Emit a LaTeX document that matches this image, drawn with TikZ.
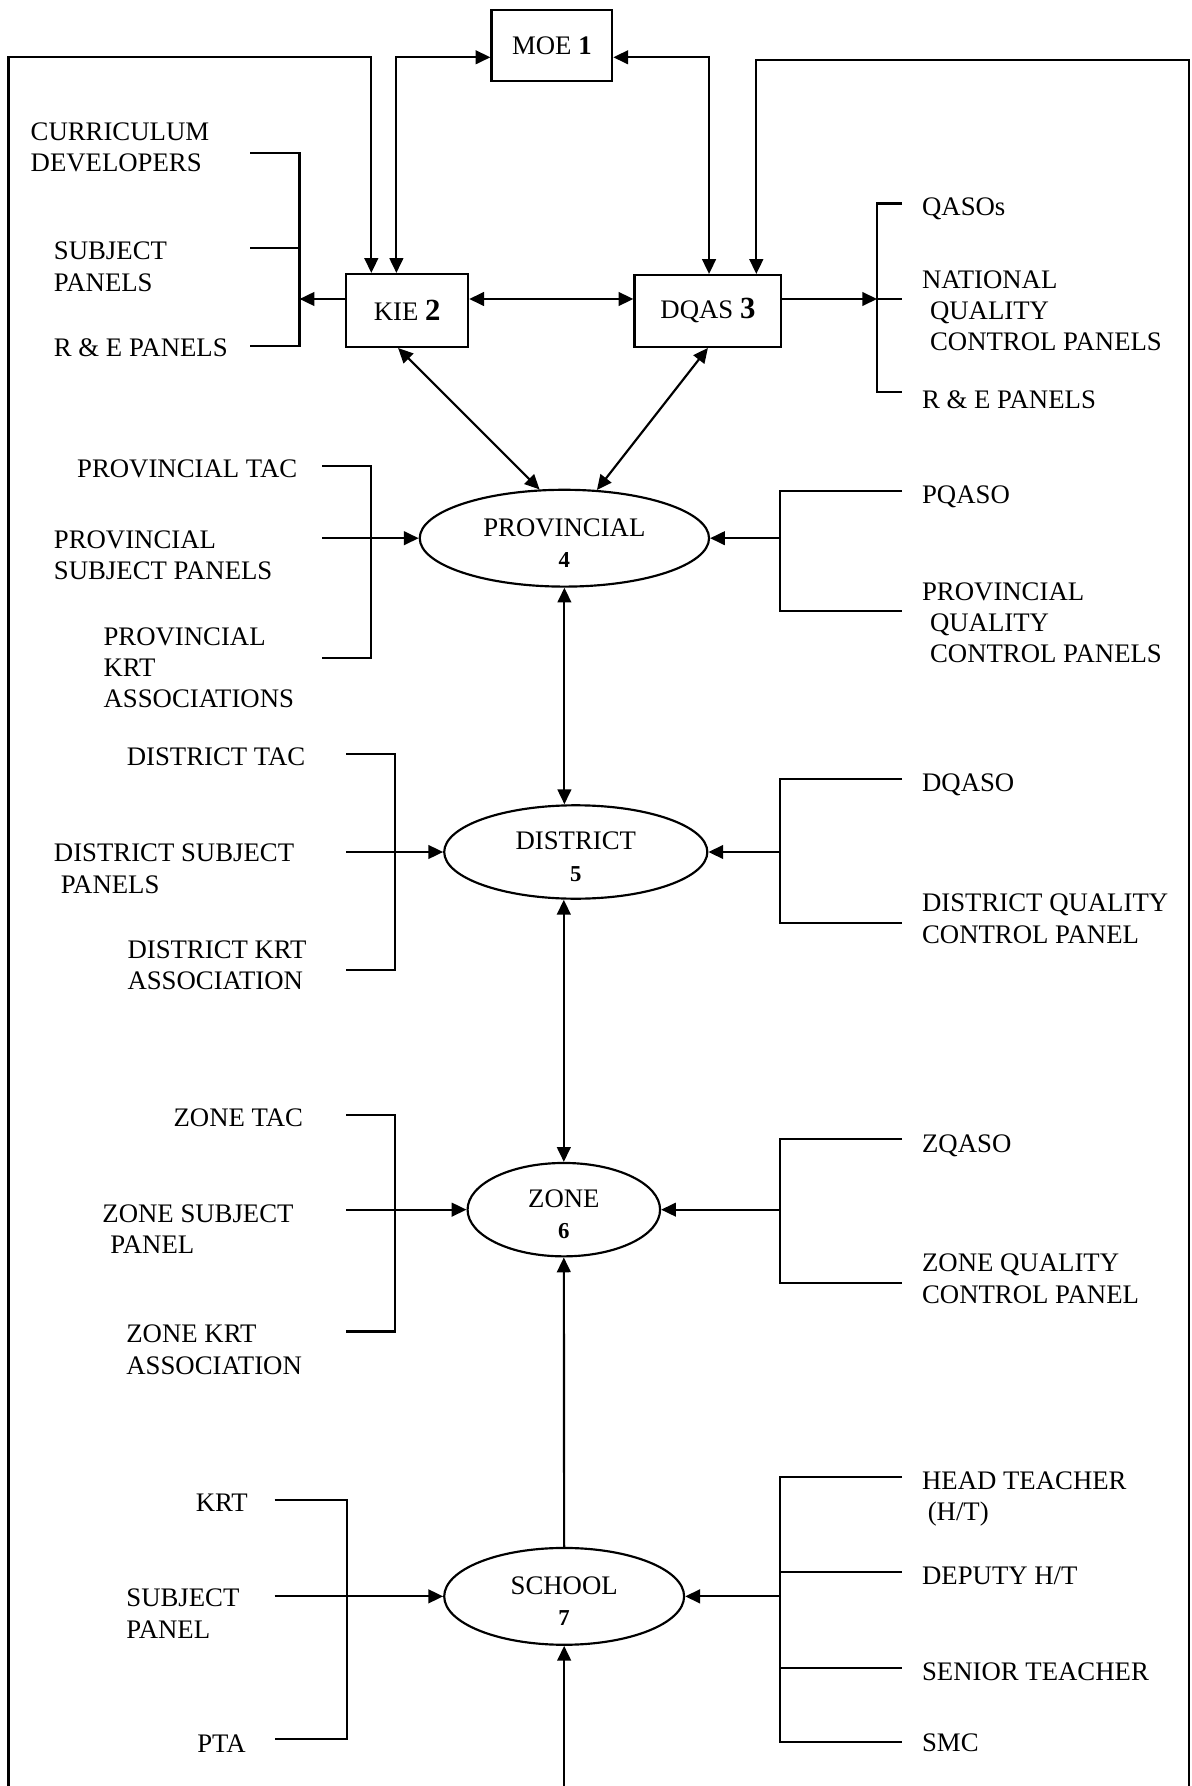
\documentclass[tikz,border=0pt]{standalone}
\usepackage{fontspec}
\setmainfont{Liberation Serif}
\usetikzlibrary{arrows.meta,shapes.geometric}
\newcommand\lvlnum[1]{{\fontsize{20}{20}\selectfont\bfseries #1}}
\newcommand\topstrut{\rule{0pt}{24pt}}
\begin{document}
\begin{tikzpicture}[x=1pt,y=-1pt,
  line width=1.9pt,
  arr/.style={-{Triangle[length=13pt,width=12pt]}},
  arrtwo/.style={{Triangle[length=13pt,width=12pt]}-{Triangle[length=13pt,width=12pt]}},
  txt/.style={inner sep=0pt, align=left, anchor=north west, font=\fontsize{23.5}{27.5}\selectfont},
  txtr/.style={txt, anchor=north east},
  box/.style={draw, rectangle, inner sep=0pt, font=\fontsize{23.5}{27.5}\selectfont},
  oval/.style={draw, ellipse, inner sep=0pt, align=center, font=\fontsize{23.5}{27.5}\selectfont}]
\useasboundingbox (0,0) rectangle (1046.5,1568);

% main boxes
\node[box, minimum width=106pt, minimum height=62pt] (moe) at (484.5,40) {MOE \textbf{1}};
\node[box, minimum width=107pt, minimum height=64pt] (kie) at (357.5,272.6) {KIE {\fontsize{27}{27}\selectfont\bfseries 2}};
\node[box, minimum width=129pt, minimum height=63pt] (dqas) at (621.5,273) {DQAS {\fontsize{27}{27}\selectfont\bfseries 3}};

% ellipses
\node[oval, minimum width=254pt, minimum height=85pt] (prov) at (495.5,472.5) {\topstrut PROVINCIAL\\\lvlnum{4}};
\node[oval, minimum width=231pt, minimum height=82pt] (dist) at (505.5,748) {\topstrut DISTRICT\\\lvlnum{5}};
\node[oval, minimum width=169pt, minimum height=82pt] (zone) at (495,1062) {\topstrut ZONE\\\lvlnum{6}};
\node[oval, minimum width=210.6pt, minimum height=85pt] (school) at (495.3,1401.5) {\topstrut SCHOOL\\\lvlnum{7}};

% texts top
\node[txt] (cd) at (26,106.5) {CURRICULUM\\DEVELOPERS};
\node[txt] (sp) at (46.4,211.5) {SUBJECT\\PANELS};
\node[txt] (reone) at (46.4,296.5) {R \& E PANELS};
\node[txt] (qasos) at (808.6,172.5) {QASOs};
\node[txt] (ncp) at (808.6,236.5) {NATIONAL\\\hspace*{7pt}QUALITY\\\hspace*{7pt}CONTROL PANELS};
\node[txt] (retwo) at (808.6,342) {R \& E PANELS};
% provincial texts
\node[txtr] (ptac) at (262,402.5) {PROVINCIAL TAC};
\node[txt] (psp) at (46.4,465) {PROVINCIAL\\SUBJECT PANELS};
\node[txt] (pkrt) at (90,550) {PROVINCIAL\\KRT\\ASSOCIATIONS};
\node[txt] (pqaso) at (808.6,425.5) {PQASO};
\node[txt] (pqcp) at (808.6,510.5) {PROVINCIAL\\\hspace*{7pt}QUALITY\\\hspace*{7pt}CONTROL PANELS};
% district texts
\node[txtr] (dtac) at (269,655.5) {DISTRICT TAC};
\node[txt] (dsp) at (46.4,740) {DISTRICT SUBJECT\\\hspace*{6pt}PANELS};
\node[txt] (dkrt) at (111,825) {DISTRICT KRT\\ASSOCIATION};
\node[txt] (dqaso) at (808.6,678.5) {DQASO};
\node[txt] (dqcp) at (808.6,784) {DISTRICT QUALITY\\CONTROL PANEL};
% zone texts
\node[txtr] (ztac) at (267,972.5) {ZONE TAC};
\node[txt] (zsp) at (89,1056.5) {ZONE SUBJECT\\\hspace*{7pt}PANEL};
\node[txt] (zkrt) at (110,1162.5) {ZONE KRT\\ASSOCIATION};
\node[txt] (zqaso) at (808.6,995) {ZQASO};
\node[txt] (zqcp) at (808.6,1100) {ZONE QUALITY\\CONTROL PANEL};
% school texts
\node[txtr] (krt) at (218.5,1310.5) {KRT};
\node[txt] (ssp) at (110,1394.3) {SUBJECT\\PANEL};
\node[txtr] (pta) at (216.7,1522.5) {PTA};
\node[txt] (ht) at (808.6,1291) {HEAD TEACHER\\\hspace*{5pt}(H/T)};
\node[txt] (dht) at (808.6,1374.5) {DEPUTY H/T};
\node[txt] (st) at (808.6,1458.5) {SENIOR TEACHER};
\node[txt] (smc) at (808.6,1521.5) {SMC};

% outer loops
\coordinate (lfb) at (7.4,1568);
\coordinate (lft) at (7.4,50.3);
\coordinate (rfb) at (1044,1568);
\coordinate (rft) at (1044,53);
\draw[arr] (lfb) -- (lft) -| (kie.north -| 326,0);
\draw[arrtwo] (kie.north -| 348,0) |- (moe.west |- 0,50.3);
\draw[arrtwo] (moe.east |- 0,50.3) -| (dqas.north -| 622.5,0);
\draw[arr] (rfb) -- (rft) -| (dqas.north -| 664,0);

% KIE <-> DQAS
\draw[arrtwo] (kie.east |- 0,262.5) -- (dqas.west |- 0,262.5);

% KIE bracket
\coordinate (kbx) at (263,262.5);
\coordinate (kb1) at (219.5,134);
\coordinate (kb2) at (219.5,218);
\coordinate (kb3) at (219.5,303.5);
\draw (kb1) -| (kbx |- kb3) -- (kb3);
\draw (kb2) -- (kbx |- kb2);
\draw[arr] (kie.west |- kbx) -- (kbx);

% DQAS bracket
\coordinate (dbx) at (770,262.5);
\coordinate (db1) at (792,178.6);
\coordinate (db2) at (792,262.5);
\coordinate (db3) at (792,344);
\draw (db1) -| (dbx |- db3) -- (db3);
\draw (dbx) -- (db2);
\draw[arr] (dqas.east |- dbx) -- (dbx);

% diagonals
\draw[arrtwo] (kie.south -| 349.5,0) -- (prov.117);
\draw[arrtwo] (dqas.south) -- (prov.56);

% vertical chain
\draw[arrtwo] (prov.south) -- (prov.south |- dist.north);
\draw[arrtwo] (dist.south -| zone.north) -- (zone.north);
\draw[arr] (school.north) -- (zone.south);
\coordinate (sb) at (495.3,1568);
\draw[arr] (sb) -- (school.south);

% provincial brackets
\coordinate (plx) at (326,409);
\coordinate (pl1) at (283,409);
\coordinate (pl2) at (283,472.5);
\coordinate (pl3) at (283,578);
\draw (pl1) -- (plx) -- (plx |- pl3) -- (pl3);
\draw[arr] (pl2) -- (prov.west);
\coordinate (prx) at (685,431);
\coordinate (pr1) at (792,431);
\coordinate (pr3) at (792,536.5);
\draw (pr1) -- (prx) -- (prx |- pr3) -- (pr3);
\draw[arr] (prx |- prov.east) -- (prov.east);

% district brackets
\coordinate (dlx) at (347,662);
\coordinate (dl1) at (304,662);
\coordinate (dl2) at (304,748);
\coordinate (dl3) at (304,851.7);
\draw (dl1) -- (dlx) -- (dlx |- dl3) -- (dl3);
\draw[arr] (dl2) -- (dist.west);
\coordinate (drx) at (685,684);
\coordinate (dr1) at (792,684);
\coordinate (dr3) at (792,810);
\draw (dr1) -- (drx) -- (drx |- dr3) -- (dr3);
\draw[arr] (drx |- dist.east) -- (dist.east);

% zone brackets
\coordinate (zlx) at (347,979);
\coordinate (zl1) at (304,979);
\coordinate (zl2) at (304,1062);
\coordinate (zl3) at (304,1169);
\draw (zl1) -- (zlx) -- (zlx |- zl3) -- (zl3);
\draw[arr] (zl2) -- (zone.west);
\coordinate (zrx) at (685,1000);
\coordinate (zr1) at (792,1000);
\coordinate (zr3) at (792,1126.6);
\draw (zr1) -- (zrx) -- (zrx |- zr3) -- (zr3);
\draw[arr] (zrx |- zone.east) -- (zone.east);

% school brackets
\coordinate (slx) at (305,1317);
\coordinate (sl1) at (241,1317);
\coordinate (sl2) at (241,1401.5);
\coordinate (sl3) at (241,1527);
\draw (sl1) -- (slx) -- (slx |- sl3) -- (sl3);
\draw[arr] (sl2) -- (school.west);
\coordinate (srx) at (685,1296.5);
\coordinate (sr1) at (792,1296.5);
\coordinate (sr2) at (792,1380);
\coordinate (sr3) at (792,1464.6);
\coordinate (sr4) at (792,1529);
\draw (sr1) -- (srx) -- (srx |- sr4) -- (sr4);
\draw (srx |- sr2) -- (sr2);
\draw (srx |- sr3) -- (sr3);
\draw[arr] (srx |- school.east) -- (school.east);
\end{tikzpicture}
\end{document}
